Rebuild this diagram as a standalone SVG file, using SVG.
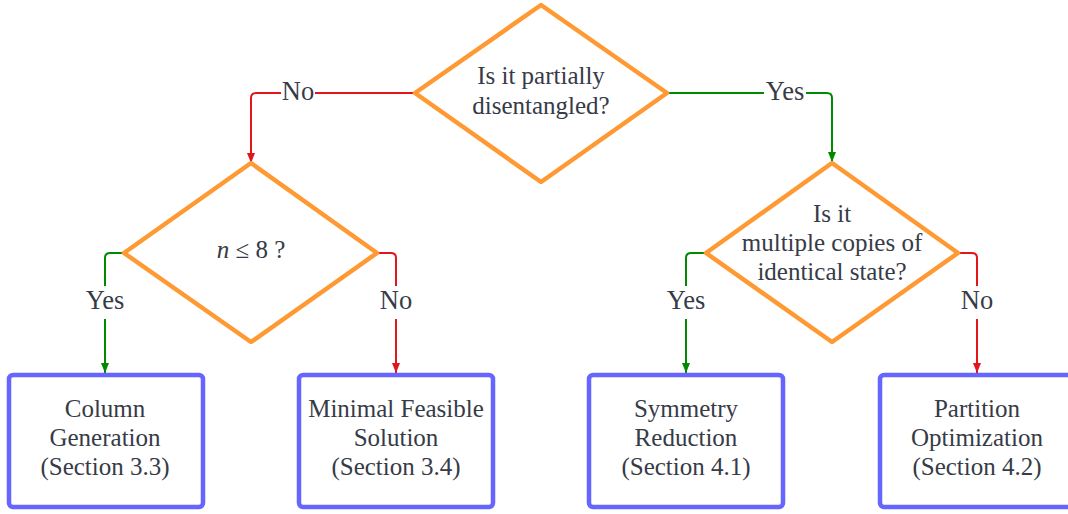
<svg xmlns="http://www.w3.org/2000/svg" width="1068" height="514" viewBox="0 0 1068 514">
<style>
.dia{fill:#fff;stroke:#FF9933;stroke-width:4.5;stroke-linejoin:round}
.box{fill:#fff;stroke:#6666FF;stroke-width:4.5}
.t{font-family:"Liberation Serif","Times New Roman",serif;font-size:25px;fill:#363b47;text-anchor:middle}
.l{font-size:26.5px}
.red{fill:none;stroke:#E3151B;stroke-width:2;marker-end:url(#ar)}
.grn{fill:none;stroke:#008A00;stroke-width:2;marker-end:url(#ag)}
.bg{fill:#fff}
</style>
<defs>
<marker id="ar" markerUnits="userSpaceOnUse" markerWidth="10" markerHeight="8" refX="10" refY="4" orient="auto"><path d="M0,0 L10,4 L0,8 z" fill="#E3151B"/></marker>
<marker id="ag" markerUnits="userSpaceOnUse" markerWidth="10" markerHeight="8" refX="10" refY="4" orient="auto"><path d="M0,0 L10,4 L0,8 z" fill="#008A00"/></marker>
</defs>
<rect width="1068" height="514" fill="#fff"/>
<g id="connectors">
<path class="red" d="M415,93 H256 Q251,93 251,98 V163"/>
<path class="grn" d="M667,93 H827 Q832,93 832,98 V162"/>
<path class="grn" d="M123,253 H110 Q105,253 105,258 V373"/>
<path class="red" d="M378,253 H391 Q396,253 396,258 V373"/>
<path class="grn" d="M706,253 H691 Q686,253 686,258 V373"/>
<path class="red" d="M958,253 H972 Q977,253 977,258 V373"/>
<rect class="bg" x="281" y="77" width="34" height="30"/>
<text class="t l" x="298" y="100">No</text>
<rect class="bg" x="764" y="77" width="42" height="30"/>
<text class="t l" x="785" y="100">Yes</text>
<rect class="bg" x="84" y="286" width="42" height="33"/>
<text class="t l" x="105" y="309">Yes</text>
<rect class="bg" x="379" y="286" width="34" height="33"/>
<text class="t l" x="396" y="309">No</text>
<rect class="bg" x="665" y="286" width="42" height="33"/>
<text class="t l" x="686" y="309">Yes</text>
<rect class="bg" x="960" y="286" width="34" height="33"/>
<text class="t l" x="977" y="309">No</text>
</g>
<g id="q1">
<polygon class="dia" points="541,5 667,93 541,182 415,93"/>
<text class="t" x="541" y="84">Is it partially</text>
<text class="t" x="541" y="114">disentangled?</text>
</g>
<g id="q2">
<polygon class="dia" points="251,163 377,253 251,342 124,253"/>
<text class="t" x="251" y="258"><tspan font-style="italic">n</tspan> ≤ 8 ?</text>
</g>
<g id="q3">
<polygon class="dia" points="832,163 958,253 832,342 706,253"/>
<text class="t" x="832" y="222">Is it</text>
<text class="t" x="832" y="251">multiple copies of</text>
<text class="t" x="832" y="280">identical state?</text>
</g>
<g id="b1">
<rect class="box" x="9" y="375" width="194" height="132" rx="4"/>
<text class="t" x="105" y="417">Column</text>
<text class="t" x="105" y="446">Generation</text>
<text class="t" x="105" y="475">(Section 3.3)</text>
</g>
<g id="b2">
<rect class="box" x="299" y="375" width="194" height="132" rx="4"/>
<text class="t" x="396" y="417">Minimal Feasible</text>
<text class="t" x="396" y="446">Solution</text>
<text class="t" x="396" y="475">(Section 3.4)</text>
</g>
<g id="b3">
<rect class="box" x="589" y="375" width="194" height="132" rx="4"/>
<text class="t" x="686" y="417">Symmetry</text>
<text class="t" x="686" y="446">Reduction</text>
<text class="t" x="686" y="475">(Section 4.1)</text>
</g>
<g id="b4">
<rect class="box" x="880" y="375" width="194" height="132" rx="4"/>
<text class="t" x="977" y="417">Partition</text>
<text class="t" x="977" y="446">Optimization</text>
<text class="t" x="977" y="475">(Section 4.2)</text>
</g>
</svg>
